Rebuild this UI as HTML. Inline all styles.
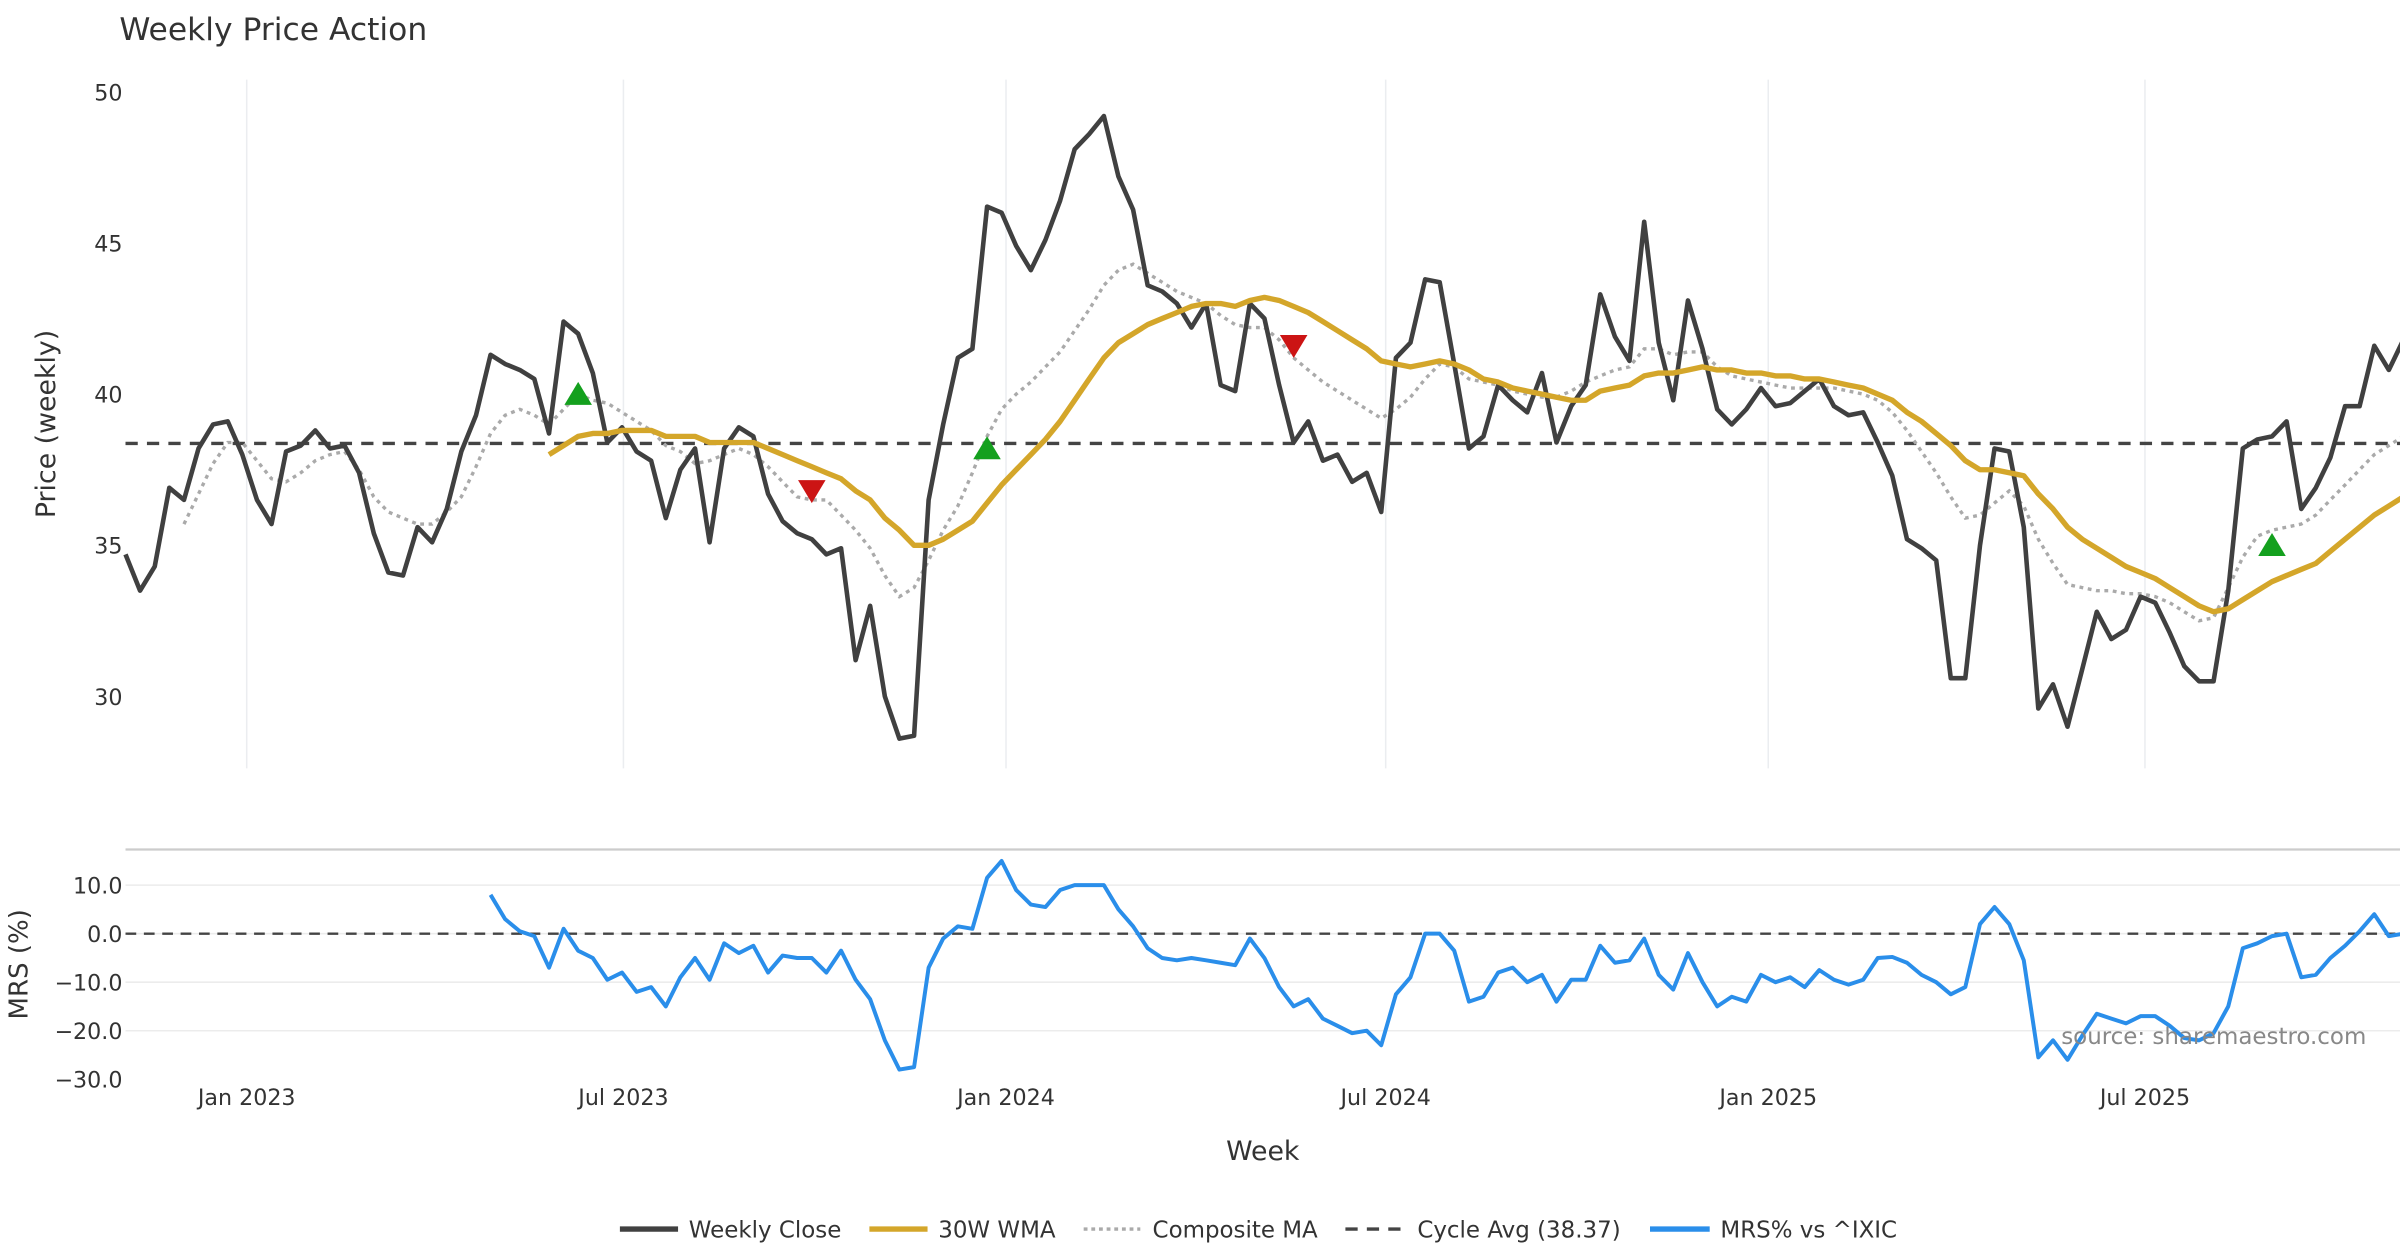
<!DOCTYPE html>
<html><head><meta charset="utf-8"><style>
html,body{margin:0;padding:0;background:#fff;}
svg{display:block;font-family:"DejaVu Sans","Liberation Sans",sans-serif;}
</style></head><body>
<svg id="chart" width="2400" height="1260" viewBox="0 0 1568 823.2" xmlns="http://www.w3.org/2000/svg">
<rect x="0" y="0" width="1568" height="823.2" fill="#fff"/>
<text x="78" y="26" font-size="20.5" fill="#333">Weekly Price Action</text>
<g id="grid"></g>
<g id="series"></g>
<text transform="translate(36,277) rotate(-90)" text-anchor="middle" font-size="17.5" fill="#333">Price (weekly)</text>
<text transform="translate(18,630) rotate(-90)" text-anchor="middle" font-size="17" fill="#333">MRS (%)</text>
<text x="825" y="758" text-anchor="middle" font-size="17.5" fill="#333">Week</text>
<text x="1546" y="682" text-anchor="end" font-size="15" fill="#888">source: sharemaestro.com</text>
<g id="legend">
 <g><line x1="405" y1="803" x2="443" y2="803" stroke="#404040" stroke-width="3.5"/><text x="450" y="808.5" font-size="15" fill="#333">Weekly Close</text></g>
 <g><line x1="568" y1="803" x2="606" y2="803" stroke="#d4a62a" stroke-width="3.5"/><text x="613" y="808.5" font-size="15" fill="#333">30W WMA</text></g>
 <g><line x1="708" y1="803" x2="745" y2="803" stroke="#aaa" stroke-width="2.2" stroke-dasharray="2.5,2.5"/><text x="753" y="808.5" font-size="15" fill="#333">Composite MA</text></g>
 <g><line x1="879" y1="803" x2="916" y2="803" stroke="#444" stroke-width="2.2" stroke-dasharray="8,6"/><text x="926" y="808.5" font-size="15" fill="#333">Cycle Avg (38.37)</text></g>
 <g><line x1="1078" y1="803" x2="1117" y2="803" stroke="#2a8eea" stroke-width="3.5"/><text x="1124" y="808.5" font-size="15" fill="#333">MRS% vs ^IXIC</text></g>
</g>
</svg>
<script>
const closes=[34.7,33.5,34.3,36.9,36.5,38.2,39.0,39.1,38.0,36.5,35.7,38.1,38.3,38.8,38.2,38.3,37.4,35.4,34.1,34.0,35.6,35.1,36.2,38.1,39.3,41.3,41.0,40.8,40.5,38.7,42.4,42.0,40.7,38.4,38.9,38.1,37.8,35.9,37.5,38.2,35.1,38.2,38.9,38.6,36.7,35.8,35.4,35.2,34.7,34.9,31.2,33.0,30.0,28.6,28.7,36.5,39.0,41.2,41.5,46.2,46.0,44.9,44.1,45.1,46.4,48.1,48.6,49.2,47.2,46.1,43.6,43.4,43.0,42.2,43.0,40.3,40.1,43.0,42.5,40.3,38.4,39.1,37.8,38.0,37.1,37.4,36.1,41.2,41.7,43.8,43.7,41.0,38.2,38.6,40.3,39.8,39.4,40.7,38.4,39.6,40.3,43.3,41.9,41.1,45.7,41.7,39.8,43.1,41.5,39.5,39.0,39.5,40.2,39.6,39.7,40.1,40.5,39.6,39.3,39.4,38.4,37.3,35.2,34.9,34.5,30.6,30.6,35.0,38.2,38.1,35.6,29.6,30.4,29.0,30.9,32.8,31.9,32.2,33.3,33.1,32.1,31.0,30.5,30.5,33.5,38.2,38.5,38.6,39.1,36.2,36.9,37.9,39.6,39.6,41.6,40.8,41.8];
const wmaStart=29;
const wma=[38.0,38.3,38.6,38.7,38.7,38.8,38.8,38.8,38.6,38.6,38.6,38.4,38.4,38.4,38.4,38.2,38.0,37.8,37.6,37.4,37.2,36.8,36.5,35.9,35.5,35.0,35.0,35.2,35.5,35.8,36.4,37.0,37.5,38.0,38.5,39.1,39.8,40.5,41.2,41.7,42.0,42.3,42.5,42.7,42.9,43.0,43.0,42.9,43.1,43.2,43.1,42.9,42.7,42.4,42.1,41.8,41.5,41.1,41.0,40.9,41.0,41.1,41.0,40.8,40.5,40.4,40.2,40.1,40.0,39.9,39.8,39.8,40.1,40.2,40.3,40.6,40.7,40.7,40.8,40.9,40.8,40.8,40.7,40.7,40.6,40.6,40.5,40.5,40.4,40.3,40.2,40.0,39.8,39.4,39.1,38.7,38.3,37.8,37.5,37.5,37.4,37.3,36.7,36.2,35.6,35.2,34.9,34.6,34.3,34.1,33.9,33.6,33.3,33.0,32.8,32.9,33.2,33.5,33.8,34.0,34.2,34.4,34.8,35.2,35.6,36.0,36.3,36.6];
const compStart=4;
const composite=[35.7,36.7,37.7,38.4,38.4,37.8,37.2,37.1,37.4,37.8,38.0,38.1,37.5,36.6,36.1,35.9,35.7,35.7,36.1,36.6,37.6,38.7,39.3,39.5,39.3,39.0,39.5,40.0,39.8,39.7,39.4,39.1,38.8,38.3,38.1,37.7,37.8,38.0,38.2,38.0,37.6,37.1,36.6,36.5,36.5,36.0,35.5,34.9,34.0,33.3,33.6,34.5,35.5,36.3,37.4,38.6,39.5,40.0,40.4,40.9,41.4,42.1,42.8,43.6,44.1,44.3,44.0,43.7,43.4,43.2,43.0,42.6,42.3,42.2,42.2,41.8,41.2,40.8,40.4,40.1,39.8,39.5,39.2,39.5,39.9,40.5,41.0,40.9,40.5,40.4,40.3,40.1,40.0,39.9,39.9,40.1,40.4,40.6,40.8,40.9,41.5,41.5,41.3,41.4,41.4,40.9,40.6,40.5,40.4,40.3,40.2,40.2,40.2,40.2,40.1,40.0,39.8,39.4,38.8,38.1,37.4,36.6,35.9,36.0,36.4,36.8,36.3,35.2,34.4,33.7,33.6,33.5,33.5,33.4,33.4,33.3,33.1,32.8,32.5,32.6,33.6,34.6,35.3,35.5,35.6,35.7,36.0,36.5,37.0,37.5,38.0,38.3,38.6];
const mrsStart=25;
const mrs=[8,3,0.5,-0.5,-7,1,-3.5,-5,-9.5,-8,-12,-11,-15,-9,-5,-9.5,-2,-4,-2.5,-8,-4.5,-5,-5,-8,-3.5,-9.5,-13.5,-22,-28,-27.5,-7,-1,1.5,1,11.5,15,9,6,5.5,9,10,10,10,5,1.5,-3,-5,-5.5,-5,-5.5,-6,-6.5,-1,-5,-11,-15,-13.5,-17.5,-19,-20.5,-20,-23,-12.5,-9,0,0,-3.5,-14,-13,-8,-7,-10,-8.5,-14,-9.5,-9.5,-2.5,-6,-5.5,-1,-8.5,-11.5,-4,-10,-15,-13,-14,-8.5,-10,-9,-11,-7.5,-9.5,-10.5,-9.5,-5,-4.8,-6,-8.5,-10,-12.5,-11,2,5.5,2,-5.5,-25.5,-22,-26,-21,-16.5,-17.5,-18.5,-17,-17,-19,-21.5,-22,-20.5,-15,-3,-2,-0.5,0,-9,-8.5,-5,-2.5,0.5,4,-0.5,0];
const cycleAvg=38.37;
const priceTicks=[30,35,40,45,50];
const mrsTicks=[10,0,-10,-20,-30];
const mrsTickLabels=["10.0","0.0","\u221210.0","\u221220.0","\u221230.0"];
const dateTickWeeks=[8.3,34.1,60.3,86.3,112.5,138.3];
const dateTickLabels=["Jan 2023","Jul 2023","Jan 2024","Jul 2024","Jan 2025","Jul 2025"];
const buySignals=[[31,40.0],[59,38.2],[147,35.0]];
const sellSignals=[[47,36.8],[80,41.6]];

const NS="http://www.w3.org/2000/svg";
const X0=82, DX=9.54;
const xw=i=>X0+DX*i;
const yp=v=>60+(50-v)*19.75;
const ym=v=>610-v*3.17;
function mk(tag,attrs,parent){const e=document.createElementNS(NS,tag);for(const k in attrs)e.setAttribute(k,attrs[k]);parent.appendChild(e);return e;}
const grid=document.getElementById('grid'), ser=document.getElementById('series');

dateTickWeeks.forEach((w,k)=>{
 const l=mk('line',{x1:xw(w),x2:xw(w),y1:52,y2:502,stroke:'#ebedf0','stroke-width':1},grid);
 
 
 const t=mk('text',{x:xw(w),y:722,'text-anchor':'middle','font-size':14.5,fill:'#333'},grid);
 t.textContent=dateTickLabels[k];
 
 
});
priceTicks.forEach(v=>{
 const t=mk('text',{x:80,y:yp(v)+5.5,'text-anchor':'end','font-size':14.5,fill:'#333'},grid);
 t.textContent=String(v);
 
 
});
const sep=mk('line',{x1:82,x2:1568,y1:555,y2:555,stroke:'#ccc','stroke-width':1.5},grid);


mrsTicks.forEach((v,k)=>{
 if(v>-30){const g=mk('line',{x1:82,x2:1568,y1:ym(v),y2:ym(v),stroke:'#ececec','stroke-width':1},grid);
 
 }
 const t=mk('text',{x:80,y:ym(v)+5.5,'text-anchor':'end','font-size':14.5,fill:'#333'},grid);
 t.textContent=mrsTickLabels[k];
 
 
});

function path(arr,start,yf){return arr.map((v,i)=>(i?'L':'M')+xw(start+i).toFixed(1)+','+yf(v).toFixed(1)).join('');}
const cyc=mk('line',{x1:82,x2:1568,y1:yp(cycleAvg),y2:yp(cycleAvg),stroke:'#444','stroke-width':2.2,'stroke-dasharray':'8,6'},ser);


const comp=mk('path',{d:path(composite,compStart,yp),fill:'none',stroke:'#aaa','stroke-width':2.2,'stroke-dasharray':'2.5,3'},ser);


const cl=mk('path',{d:path(closes,0,yp),fill:'none',stroke:'#404040','stroke-width':3,'stroke-linejoin':'round'},ser);


const wm=mk('path',{d:path(wma,wmaStart,yp),fill:'none',stroke:'#d4a62a','stroke-width':3.5,'stroke-linejoin':'round'},ser);


buySignals.forEach(([i,v])=>{
 const x=xw(i),y=yp(v);
 const p=mk('polygon',{points:`${x-9},${y+7} ${x+9},${y+7} ${x},${y-8}`,fill:'#14a01e'},ser);
 
 
});
sellSignals.forEach(([i,v])=>{
 const x=xw(i),y=yp(v);
 const p=mk('polygon',{points:`${x-9},${y-7} ${x+9},${y-7} ${x},${y+8}`,fill:'#cc1414'},ser);
 
 
});
const z=mk('line',{x1:82,x2:1568,y1:ym(0),y2:ym(0),stroke:'#444','stroke-width':1.5,'stroke-dasharray':'7,5'},ser);


const ml=mk('path',{d:path(mrs,mrsStart,ym),fill:'none',stroke:'#2a8eea','stroke-width':2.6,'stroke-linejoin':'round'},ser);


</script>
</body></html>
